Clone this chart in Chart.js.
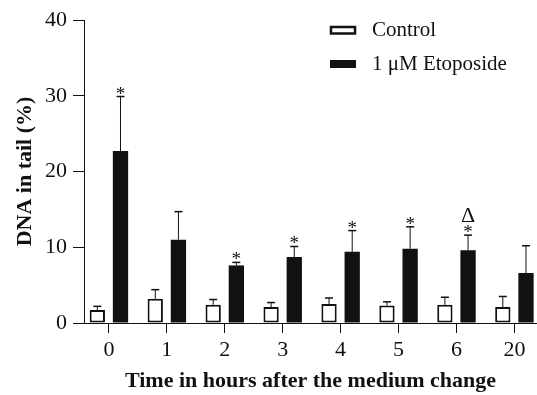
<!DOCTYPE html>
<html>
<head>
<meta charset="utf-8">
<script src="https://cdn.jsdelivr.net/npm/chart.js@4.4.1/dist/chart.umd.min.js"></script>
<style>
  html, body { margin: 0; padding: 0; background: #fff; }
  #wrap { width: 537px; height: 395px; }
</style>
</head>
<body>
<div id="wrap"><canvas id="cometChart" width="537" height="395"></canvas></div>
<script>
// Hours after the medium change
const hours = ["0", "1", "2", "3", "4", "5", "6", "20"];

// Mean % DNA in tail and SD (upper error bar only)
const controlMean = [1.7, 3.2, 2.4, 2.1, 2.5, 2.3, 2.4, 2.1];
const controlSD = [0.5, 1.2, 0.7, 0.6, 0.8, 0.5, 1.0, 1.4];
const etoMean = [22.7, 11.0, 7.6, 8.7, 9.4, 9.8, 9.6, 6.6];
const etoSD = [7.2, 3.7, 0.4, 1.4, 2.8, 2.9, 2.0, 3.6];

// Significance marks on the etoposide bars
const etoStar = [true, false, true, true, true, true, true, false];
const etoDelta = [false, false, false, false, false, false, true, false];

const INK = "#111";
const SERIF = "'Liberation Serif', 'Times New Roman', serif";

// Upward error bars with caps, plus * and Δ marks
const errorBars = {
  id: "errorBars",
  afterDatasetsDraw(chart) {
    const { ctx, scales } = chart;
    chart.data.datasets.forEach((ds, di) => {
      const meta = chart.getDatasetMeta(di);
      meta.data.forEach((bar, i) => {
        const top = scales.y.getPixelForValue(ds.data[i].y + ds.sd[i]);
        ctx.save();
        ctx.strokeStyle = INK;
        ctx.lineWidth = 1;
        ctx.beginPath();
        ctx.moveTo(bar.x, bar.y);
        ctx.lineTo(bar.x, top);
        ctx.stroke();
        ctx.lineWidth = 1.5;
        ctx.beginPath();
        ctx.moveTo(bar.x - 4, top);
        ctx.lineTo(bar.x + 4, top);
        ctx.stroke();
        ctx.fillStyle = INK;
        ctx.textAlign = "center";
        ctx.textBaseline = "alphabetic";
        if (ds.star && ds.star[i]) {
          ctx.font = "19px " + SERIF;
          ctx.fillText("*", bar.x, top + 3);
        }
        if (ds.delta && ds.delta[i]) {
          ctx.font = "22px " + SERIF;
          ctx.fillText("\u0394", bar.x, top - 13);
        }
        ctx.restore();
      });
    });
  },
};

// Two-row legend in the upper right
const boxLegend = {
  id: "boxLegend",
  afterDraw(chart) {
    const { ctx } = chart;
    const rows = chart.data.datasets;
    ctx.save();
    ctx.font = "21px " + SERIF;
    ctx.fillStyle = INK;
    ctx.textBaseline = "middle";
    ctx.textAlign = "left";
    rows.forEach((ds, i) => {
      const y = 30 + i * 34;
      if (i === 0) {
        ctx.strokeStyle = INK;
        ctx.lineWidth = 2.5;
        ctx.strokeRect(331, y - 3, 24, 6.5);
      } else {
        ctx.fillRect(330, y - 4, 26, 8);
      }
      ctx.fillText(ds.label, 372, y);
    });
    ctx.restore();
  },
};

new Chart(document.getElementById("cometChart"), {
  type: "bar",
  data: {
    datasets: [
      {
        label: "Control",
        data: controlMean.map((v, i) => ({ x: i, y: v })),
        sd: controlSD,
        backgroundColor: "#fff",
        borderColor: INK,
        borderWidth: 2,
        borderSkipped: false,
      },
      {
        label: "1 \u03bcM Etoposide",
        data: etoMean.map((v, i) => ({ x: i, y: v })),
        sd: etoSD,
        star: etoStar,
        delta: etoDelta,
        backgroundColor: INK,
        borderWidth: 0,
      },
    ],
  },
  options: {
    responsive: false,
    animation: false,
    categoryPercentage: 0.8,
    barPercentage: 0.66,
    layout: { padding: { top: 20, right: 0, left: 0, bottom: 0 } },
    plugins: {
      legend: { display: false },
      tooltip: { enabled: false },
    },
    scales: {
      x: {
        type: "linear",
        offset: false,
        min: -0.43,
        max: 7.39,
        afterBuildTicks: (scale) => {
          scale.ticks = hours.map((_, i) => ({ value: i }));
        },
        afterFit: (scale) => {
          scale.height = 72;
        },
        grid: {
          offset: false,
          drawOnChartArea: false,
          drawTicks: true,
          tickLength: 10,
          color: INK,
        },
        border: { display: true, color: INK, width: 1 },
        ticks: {
          autoSkip: false,
          maxRotation: 0,
          padding: 4,
          color: INK,
          font: { family: SERIF, size: 22 },
          callback: (v) => hours[v],
        },
        title: {
          display: true,
          text: "Time in hours after the medium change",
          color: INK,
          font: { family: SERIF, size: 22, weight: "bold" },
          padding: { top: 0, bottom: 0 },
        },
      },
      y: {
        min: 0,
        max: 40,
        afterFit: (scale) => {
          scale.width = 84;
        },
        grid: {
          drawOnChartArea: false,
          drawTicks: true,
          tickLength: 11,
          color: INK,
        },
        border: { display: true, color: INK, width: 1 },
        ticks: {
          stepSize: 10,
          padding: 6,
          color: INK,
          font: { family: SERIF, size: 22 },
        },
        title: {
          display: true,
          text: "DNA in tail (%)",
          color: INK,
          font: { family: SERIF, size: 22, weight: "bold" },
          padding: { top: 12, bottom: 0 },
        },
      },
    },
  },
  plugins: [errorBars, boxLegend],
});
</script>
</body>
</html>
